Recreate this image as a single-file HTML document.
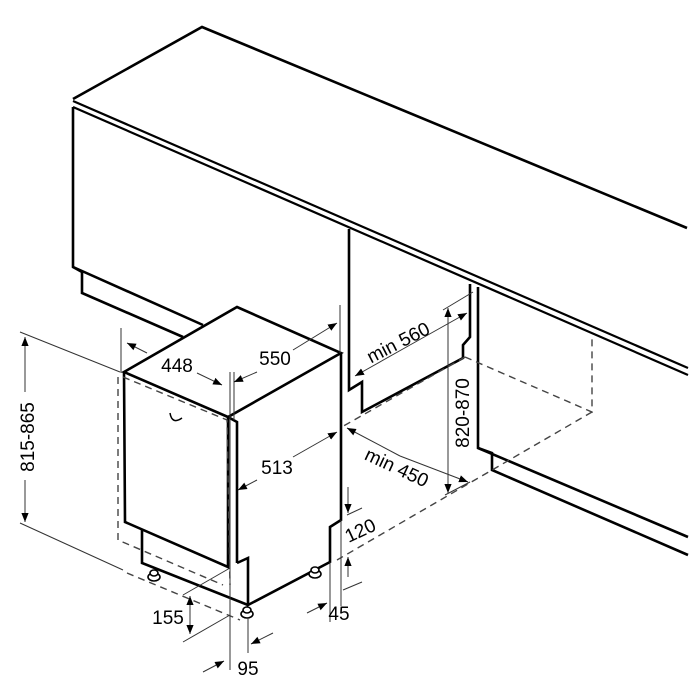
<!DOCTYPE html>
<html><head><meta charset="utf-8"><style>html,body{margin:0;padding:0;background:#fff}svg{display:block}</style></head>
<body>
<svg width="700" height="700" viewBox="0 0 700 700" xmlns="http://www.w3.org/2000/svg">
<defs>
<marker id="a" viewBox="0 0 10 10" refX="10" refY="5" markerWidth="9" markerHeight="9" markerUnits="userSpaceOnUse" orient="auto"><path d="M0,1 L10,5 L0,9 Z" fill="#000"/></marker>
</defs>
<g fill="none" stroke="#000" stroke-width="2.6" stroke-linejoin="miter">
<path d="M73,99 L202,27 L687,228"/>
<path d="M73,101 L688,368" stroke-width="2.2"/>
<path d="M73,107 L688,375" stroke-width="2.2"/>
<path d="M73,107 L73,267 L82,272 L82,293 L183,337"/>
<path d="M73,267 L203,325"/>
<path d="M349,229 L349,390 L362,382 L362,412 L463,358 L463,345 L470,337 L470,284"/>
<path d="M478,287 L478,448 L492,453 L492,470 L688,555"/>
<path d="M478,448 L688,537"/>
<path d="M124,372 L237,307 L341,353 L228,417 Z"/>
<path d="M124,372 L125,522 L228,567 L228,417"/>
<path d="M228,417 L237,422 L237,563"/>
<path d="M341,353 L341,520 L330,527 L330,562 L248,605 L248,558 L237,563"/>
<path d="M142,530 L142,563 L248,605"/>
</g>
<g fill="#fff" stroke="#000" stroke-width="1.6">
<ellipse cx="154" cy="577" rx="6" ry="4"/><ellipse cx="154" cy="573" rx="4" ry="3"/>
<ellipse cx="247" cy="614" rx="6" ry="4"/><ellipse cx="247" cy="610" rx="4" ry="3"/>
<ellipse cx="315" cy="574" rx="6" ry="4"/><ellipse cx="315" cy="570" rx="4" ry="3"/>
</g>
<path d="M170,413 Q172,425 182,418" fill="none" stroke="#000" stroke-width="1.5"/>
<g fill="none" stroke="#444" stroke-width="1.4" stroke-dasharray="7,5">
<path d="M118,377 L118,540 L223,585"/>
<path d="M123,377 L227,420 L230,585"/>
<path d="M465,357 L592,412 L592,335"/>
<path d="M592,412 L337,560"/>
<path d="M465,357 L340,428"/>
<path d="M127,573 L240,620"/>
</g>
<g fill="none" stroke="#333" stroke-width="1">
<path d="M20,332 L120,372 M20,523 L123,570"/>
<path d="M25,392 L25,337" marker-end="url(#a)"/><path d="M25,480 L25,522" marker-end="url(#a)"/>
<path d="M121,328 L121,373"/>
<path d="M147,353 L127,343" marker-end="url(#a)"/>
<path d="M197,373 L222,385" marker-end="url(#a)"/>
<path d="M230,372 L230,670 M234,372 L234,420"/>
<path d="M340,305 L340,353"/>
<path d="M293,350 L337,323" marker-end="url(#a)"/>
<path d="M257,372 L234,382" marker-end="url(#a)"/>
<path d="M293,457 L337,432" marker-end="url(#a)"/>
<path d="M257,480 L238,490" marker-end="url(#a)"/>
<path d="M348,487 L348,513" marker-end="url(#a)"/>
<path d="M347,515 L362,508 M343,590 L362,582"/>
<path d="M348,577 L348,557" marker-end="url(#a)"/>
<path d="M330,562 L330,622 M341,520 L341,606"/>
<path d="M307,613 L327,603" marker-end="url(#a)"/>
<path d="M183,595 L230,568 M183,642 L230,615"/>
<path d="M190,615 L190,596" marker-end="url(#a)"/><path d="M190,615 L190,634" marker-end="url(#a)"/>
<path d="M203,672 L224,661" marker-end="url(#a)"/>
<path d="M273,633 L251,644" marker-end="url(#a)"/>
<path d="M248,617 L248,653"/>
<path d="M410,345 L355,376" marker-end="url(#a)"/><path d="M410,345 L467,313" marker-end="url(#a)"/>
<path d="M443,310 L473,292"/>
<path d="M400,456 L347,428" marker-end="url(#a)"/><path d="M400,456 L468,482" marker-end="url(#a)"/>
<path d="M448,400 L448,308" marker-end="url(#a)"/><path d="M448,400 L448,493" marker-end="url(#a)"/>
<path d="M445,495 L470,482"/>
</g>
<g font-family="Liberation Sans, sans-serif" font-size="19" fill="#000" text-anchor="middle">
<text x="27" y="444" transform="rotate(-90 27 437)">815-865</text>
<text x="177" y="372">448</text>
<text x="275" y="365">550</text>
<text x="277" y="474">513</text>
<text x="168" y="624">155</text>
<text x="248" y="675">95</text>
<text x="339" y="620">45</text>
<text x="360" y="537" transform="rotate(-25 360 530)">120</text>
<text x="398" y="349" transform="rotate(-27 398 342)">min 560</text>
<text x="397" y="474" transform="rotate(25 397 467)">min 450</text>
<text x="462" y="420" transform="rotate(-90 462 413)">820-870</text>
</g>
</svg>
</body></html>
